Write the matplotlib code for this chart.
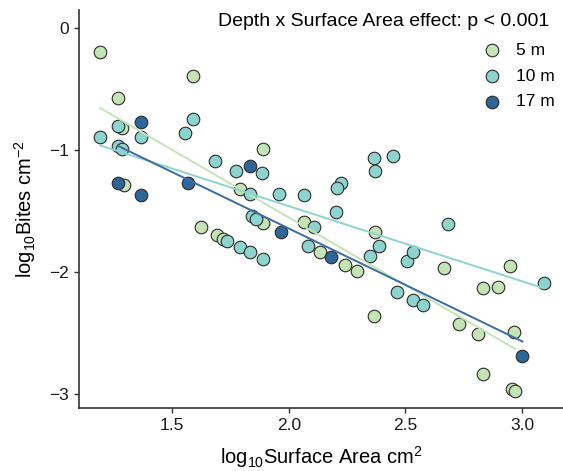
import numpy as np
import matplotlib
matplotlib.use("Agg")
import matplotlib.pyplot as plt

plt.rcParams["font.family"] = ["Liberation Sans", "DejaVu Sans"]
plt.rcParams["mathtext.fontset"] = "custom"
plt.rcParams["mathtext.rm"] = "Liberation Sans"
plt.rcParams["mathtext.it"] = "Liberation Sans"

depths = ["5 m", "10 m", "17 m"]
point_colors = ["#c4e4b6", "#8dd4ce", "#2e6697"]
line_colors = ["#c4e4b6", "#8dd4ce", "#3a6ca5"]

# log10 surface area / log10 bites
x_5m = [1.192, 1.588, 1.267, 1.284, 1.888, 1.292, 1.793, 1.626, 1.691, 1.719,
        1.888, 2.066, 2.135, 2.240, 2.292, 2.371, 2.366, 2.666, 2.728, 2.813,
        2.833, 2.898, 2.947, 2.968, 2.833, 2.956, 2.971]
y_5m = [-0.194, -0.393, -0.575, -0.816, -0.993, -1.286, -1.322, -1.631, -1.700, -1.728,
        -1.595, -1.590, -1.833, -1.944, -1.990, -1.673, -2.364, -1.968, -2.427, -2.510,
        -2.134, -2.121, -1.949, -2.494, -2.834, -2.958, -2.972]

x_10m = [1.192, 1.269, 1.367, 1.267, 1.287, 1.554, 1.588, 1.685, 1.773, 1.885,
         1.834, 1.958, 2.066, 2.223, 2.207, 2.204, 2.366, 2.371, 2.448, 1.842,
         1.862, 2.109, 1.791, 1.834, 1.888, 1.734, 2.081, 2.387, 2.347, 2.509,
         2.532, 2.463, 2.535, 2.574, 2.682, 3.093]
y_10m = [-0.893, -0.802, -0.893, -0.968, -0.995, -0.857, -0.744, -1.087, -1.175, -1.189,
         -1.360, -1.360, -1.369, -1.272, -1.308, -1.507, -1.064, -1.175, -1.051, -1.543,
         -1.562, -1.631, -1.792, -1.833, -1.894, -1.742, -1.783, -1.789, -1.872, -1.913,
         -1.833, -2.165, -2.231, -2.273, -1.604, -2.090]

x_17m = [1.367, 1.269, 1.367, 1.568, 1.834, 1.968, 2.181, 3.002]
y_17m = [-0.769, -1.272, -1.369, -1.272, -1.134, -1.673, -1.880, -2.690]

# fitted lines (intercept, slope) as drawn in the figure
fit_intercept = [0.667, -0.228, 0.207]
fit_slope = [-1.110, -0.616, -0.925]

xs = [x_5m, x_10m, x_17m]
ys = [y_5m, y_10m, y_17m]

fig = plt.figure(figsize=(5.63, 4.71), dpi=100)
ax = fig.add_axes([0.1403, 0.1338, 0.8597, 0.845])

for i in range(3):
    ax.scatter(xs[i], ys[i], s=82, c=point_colors[i], edgecolors="#2b2b2b",
               linewidths=0.8, zorder=2, label=depths[i])

for i in range(3):
    lx = np.array([min(xs[i]), max(xs[i])])
    ax.plot(lx, fit_intercept[i] + fit_slope[i] * lx, color=line_colors[i],
            lw=1.4, zorder=3)

ax.set_xlim(1.101, 3.176)
ax.set_ylim(-3.115, 0.148)
ax.set_xticks([1.5, 2.0, 2.5, 3.0])
ax.set_xticklabels(["1.5", "2.0", "2.5", "3.0"])
ax.set_yticks([0, -1, -2, -3])
ax.set_yticklabels(["0", "\u22121", "\u22122", "\u22123"])

for side in ["top", "right"]:
    ax.spines[side].set_visible(False)
for side in ["left", "bottom"]:
    ax.spines[side].set_linewidth(1.2)
    ax.spines[side].set_color("#333333")
ax.tick_params(length=3.5, width=1.0, color="#333333", labelsize=12.5,
               labelcolor="#1a1a1a")

ax.set_xlabel(r"log$_{10}$Surface Area cm$^{2}$", fontsize=14.5, labelpad=8)
ax.set_ylabel(r"log$_{10}$Bites cm$^{-2}$", fontsize=14.5, labelpad=8)

fig.text(0.975, 0.945, "Depth x Surface Area effect: p < 0.001", ha="right",
         va="baseline", fontsize=14)

ax.legend(loc="upper right", bbox_to_anchor=(0.997, 0.935), frameon=False,
          fontsize=12.5, handletextpad=0.4, labelspacing=0.6, markerscale=1.0,
          borderaxespad=0)

fig.savefig("out.png", dpi=100)
